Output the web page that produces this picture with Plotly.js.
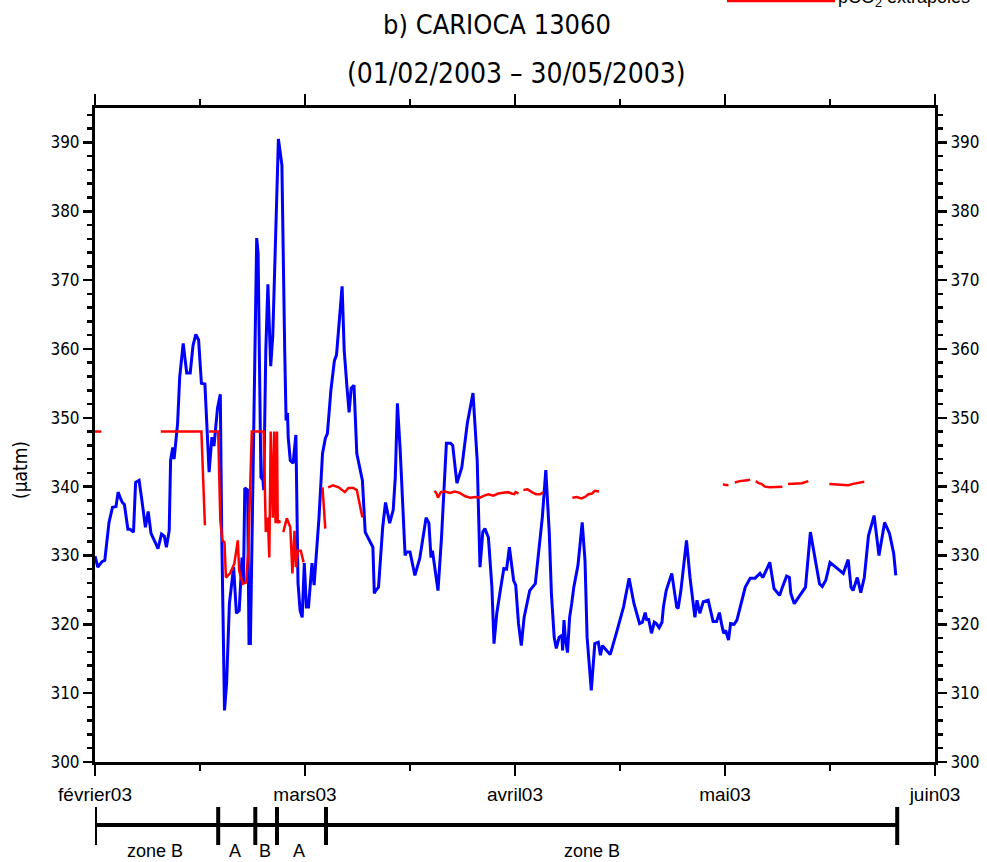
<!DOCTYPE html>
<html>
<head>
<meta charset="utf-8">
<script src="https://cdn.plot.ly/plotly-3.0.1.min.js"></script>
<style>html,body{margin:0;padding:0;background:#fff;}#chart{width:987px;height:862px;}</style>
</head>
<body>
<div id="chart"></div>
<script>
// ---- data (x = days since 01/02/2003) ----
const monthTickDays = [0, 30, 60, 90, 120];
const monthLabels = ['février03', 'mars03', 'avril03', 'mai03', 'juin03'];

const blueDay = [
  0,0.4,1.0,1.4,2.0,2.5,3.0,3.3,3.6,3.9,
  4.2,4.7,5.0,5.5,5.8,6.3,6.7,7.2,7.6,8.0,
  8.6,9.0,9.5,9.9,10.2,10.6,10.8,11.1,11.3,11.8,
  12.1,12.6,13.1,13.6,14.0,14.4,14.8,15.2,15.7,16.3,
  16.7,17.0,17.5,17.9,18.1,18.5,18.8,19.2,19.8,20.2,
  20.6,21.0,21.2,21.4,21.8,22.0,22.2,22.6,23.1,23.3,
  23.5,23.7,24.0,24.1,24.4,24.7,25.1,25.4,26.2,26.7,
  27.1,27.3,27.5,27.6,27.9,28.3,28.7,28.8,29.0,29.3,
  29.6,29.9,30.2,30.5,31.0,31.3,31.7,32.0,32.5,32.9,
  33.2,33.7,34.2,34.5,35.3,35.6,36.0,36.3,36.6,37.0,
  37.4,38.2,38.6,39.3,39.7,39.9,40.1,40.5,41.1,41.5,
  42.1,42.6,42.9,43.2,43.6,44.3,44.5,45.0,45.7,46.4,
  46.9,47.3,47.7,48.0,48.2,48.6,49.0,49.5,49.9,50.2,
  50.8,51.1,51.7,52.4,53.2,54.0,54.6,55.0,55.4,55.7,
  56.2,56.7,57.0,57.4,57.9,58.4,58.8,59.2,59.8,60.1,
  60.5,60.9,61.3,62.1,62.9,63.5,63.9,64.4,64.9,65.2,
  65.6,65.9,66.3,66.7,66.8,67.0,67.2,67.5,67.8,68.1,
  68.4,69.0,69.6,70.0,70.3,70.9,71.4,71.9,72.2,72.5,
  73.6,74.5,75.5,76.3,77.0,77.8,78.2,78.6,78.8,79.1,
  79.5,79.9,80.2,80.6,81.0,81.2,81.6,82.4,83.1,83.3,
  83.7,84.5,85.0,85.7,86.0,86.4,86.9,87.6,88.0,88.3,
  88.8,89.2,89.5,89.8,90.1,90.5,90.8,91.3,91.7,92.3,
  92.9,93.6,94.3,95.0,95.4,96.0,96.4,97.0,97.8,98.2,
  98.8,99.2,99.4,99.9,100.7,101.5,102.2,102.9,103.5,103.9,
  104.4,105.0,106.9,107.6,108.0,108.3,108.9,109.4,109.9,110.5,
  111.3,112.0,112.8,113.5,114.1,114.4
];
const bluePco2 = [
  329.9,328.3,329.1,329.3,334.8,337.0,337.1,339.2,338.4,337.7,
  337.4,333.8,333.8,333.4,340.6,340.9,338.0,334.1,336.4,333.2,
  331.9,331.0,333.1,332.8,331.2,333.6,343.8,345.7,344.0,349.2,
  355.9,360.8,356.5,356.5,360.5,362.1,361.3,355.0,354.9,342.1,
  347.2,345.9,351.4,353.4,333.4,307.5,311.4,323.0,328.3,321.6,
  322.0,329.7,325.9,339.8,339.5,317.2,317.2,345.3,376.1,373.9,
  359.8,341.4,340.9,339.5,359.8,369.4,357.5,362.0,390.5,386.7,
  359.8,349.6,350.7,347.2,343.8,343.4,347.5,340.5,326.0,322.0,
  321.0,328.9,322.5,322.5,328.9,325.7,330.7,335.5,344.8,347.0,
  347.7,354.0,358.3,359.1,369.1,359.8,354.4,350.8,354.3,354.7,
  344.8,340.9,333.4,331.9,331.2,324.5,324.9,325.4,334.1,337.7,
  334.7,336.6,341.4,352.1,345.3,330.0,330.5,330.5,327.1,329.6,
  332.6,335.5,334.7,329.7,330.7,327.8,324.9,332.6,339.4,346.3,
  346.3,346.0,340.5,342.8,349.3,353.6,343.8,328.3,333.4,333.9,
  332.6,325.4,317.2,321.6,324.9,328.1,328.0,331.2,326.4,325.7,
  320.1,316.9,321.0,324.9,325.9,331.2,335.5,342.4,333.2,324.5,
  318.1,316.5,318.1,318.4,316.2,320.6,317.9,315.9,321.0,323.0,
  325.4,328.6,334.8,329.3,318.1,310.4,317.2,317.4,315.5,316.9,
  315.6,318.8,322.5,326.7,323.0,320.1,320.3,321.7,320.7,320.7,
  318.7,320.3,320.1,319.5,320.3,322.5,324.9,327.4,322.5,322.3,
  324.9,332.2,326.8,321.0,323.5,321.6,323.3,323.5,321.6,320.4,
  320.4,321.7,320.1,318.7,319.1,317.7,320.1,320.0,320.6,323.2,
  325.4,326.7,326.7,327.4,326.8,328.1,329.0,325.2,324.2,325.4,
  327.0,326.8,324.5,323.0,324.2,325.4,333.4,329.3,325.9,325.5,
  326.4,329.0,327.4,329.4,325.4,324.9,326.8,324.6,326.8,332.9,
  335.8,330.0,334.8,333.2,330.3,327.1
];

// extrapolated pCO2 (null = gap)
const redDay = [
  0,0.9,null,
  9.4,15.2,15.7,null,
  16.3,17.6,17.9,18.2,18.5,18.7,19.3,19.9,20.4,20.6,21.1,21.6,21.9,22.4,24.1,24.4,24.7,24.9,25.1,25.4,25.6,25.8,26.0,26.1,26.3,26.4,null,
  26.9,27.4,27.9,28.2,28.5,28.7,29.0,29.4,29.8,null,
  32.5,32.9,null,
  33.3,34.0,34.8,35.7,36.2,36.9,37.4,37.8,38.2,null,
  48.5,48.8,49.0,49.4,50.0,50.7,51.4,52.1,52.9,53.6,54.3,55.0,55.6,56.2,56.9,57.6,58.3,59.0,59.5,59.9,60.1,60.5,null,
  61.2,61.8,62.4,63.0,63.6,64.0,null,
  68.2,68.8,69.5,70.0,70.5,71.0,71.4,72.0,null,
  89.7,90.5,null,
  91.4,92.1,92.9,93.6,null,
  94.4,94.8,95.2,95.7,96.4,97.4,98.2,null,
  99.0,100.0,101.0,101.9,null,
  104.9,106.0,106.9,107.6,108.3,109.0,109.9
];
const redPco2 = [
  348,348,null,
  348,348,334.4,null,
  348,348,335.1,332.2,331.9,326.8,327.4,328.8,332.2,327.8,325.9,326.1,330.7,348,348,333.4,335.5,329.7,348,335.5,348,334.7,348,334.7,335.1,334.7,null,
  333.4,335.4,334.1,327.4,333.6,328.3,330.7,330.7,329.0,null,
  339.9,333.9,null,
  339.9,340.2,339.9,339.2,339.8,339.8,339.5,337.7,335.5,null,
  339.4,339.0,338.4,339.2,339.3,339.1,339.3,339.1,338.6,338.4,338.5,338.4,338.7,338.9,338.7,339.0,339.1,339.2,339.0,338.9,339.2,339.0,null,
  339.5,339.6,339.2,338.9,338.9,339.2,null,
  338.4,338.5,338.3,338.5,338.9,339.0,339.4,339.3,null,
  340.3,340.2,null,
  340.6,340.8,340.9,341.0,null,
  340.8,340.5,340.4,340.0,339.9,339.9,340.0,null,
  340.4,340.5,340.5,340.8,null,
  340.4,340.3,340.2,340.2,340.4,340.5,340.7
];

// water-mass zones along the track
const zoneEdges = [0, 17.6, 22.9, 26.0, 33.0, 114.6];
const zoneLabels = ['zone B', 'A', 'B', 'A', 'zone B'];
const zoneLabelDays = [8.6, 20.0, 24.3, 29.1, 71.0];

// ---- drawing ----
const NARROW = 'Liberation Sans Narrow, DejaVu Sans Condensed, Arial Narrow, sans-serif';
const SANS = 'Liberation Sans, Arial, sans-serif';
const PLOT_TOP = 108, PLOT_BOT = 762, H = 862;
const plotH = PLOT_BOT - PLOT_TOP;
const py = p => (PLOT_BOT - p) / plotH; // pixel row -> paper y

const traces = [
  {x: blueDay, y: bluePco2, type: 'scatter', mode: 'lines', name: 'pCO2',
   line: {color: '#0000ff', width: 3}, showlegend: false, hoverinfo: 'x+y'},
  {x: redDay, y: redPco2, type: 'scatter', mode: 'lines', name: 'pCO2 extrapolés',
   connectgaps: false, line: {color: '#ff0000', width: 2.5}, showlegend: false},
  {x: blueDay, y: bluePco2, yaxis: 'y2', type: 'scatter', mode: 'none',
   showlegend: false, hoverinfo: 'skip'}
];

const yCommon = {
  range: [300, 395], tickmode: 'linear', tick0: 300, dtick: 10,
  ticks: 'outside', ticklen: 9, tickwidth: 2.5, tickcolor: '#000',
  minor: {tickmode: 'linear', tick0: 300, dtick: 2, ticks: 'outside', ticklen: 5, tickwidth: 2.5, tickcolor: '#000'},
  showline: true, linewidth: 3, linecolor: '#000',
  showgrid: false, zeroline: false, fixedrange: true,
  tickfont: {family: NARROW, size: 17, color: '#000'}
};

const shapes = [];
// zone bar
shapes.push({type: 'line', xref: 'x', yref: 'paper',
  x0: zoneEdges[0], x1: zoneEdges[zoneEdges.length - 1], y0: py(825), y1: py(825),
  line: {color: '#000', width: 4}});
zoneEdges.forEach(d => shapes.push({type: 'line', xref: 'x', yref: 'paper',
  x0: d, x1: d, y0: py(807), y1: py(845), line: {color: '#000', width: 4}}));
// legend line (partly outside the page, as in the original)
shapes.push({type: 'line', xref: 'paper', yref: 'paper',
  x0: (727 - 95) / 840, x1: (835 - 95) / 840, y0: py(1), y1: py(1),
  line: {color: '#ff0000', width: 2.5}});

const annotations = [];
zoneLabels.forEach((t, i) => annotations.push({
  text: t, xref: 'x', yref: 'paper', x: zoneLabelDays[i], y: py(851),
  xanchor: 'center', yanchor: 'middle', showarrow: false,
  font: {family: SANS, size: 18, color: '#000'}}));
annotations.push({text: '(01/02/2003 – 30/05/2003)', xref: 'paper', yref: 'paper',
  x: (516 - 95) / 840, y: py(73), xanchor: 'center', yanchor: 'middle', showarrow: false,
  font: {family: NARROW, size: 28, color: '#000'}});
annotations.push({text: '(μatm)', xref: 'paper', yref: 'paper',
  x: (20 - 95) / 840, y: py(470), xanchor: 'center', yanchor: 'middle', showarrow: false,
  textangle: -90, font: {family: NARROW, size: 19, color: '#000'}});
annotations.push({text: 'pCO<sub>2</sub> extrapolés', xref: 'paper', yref: 'paper',
  x: (836 - 95) / 840, y: py(-1), xanchor: 'left', yanchor: 'middle', showarrow: false,
  font: {family: SANS, size: 18, color: '#000'}});

const layout = {
  width: 987, height: 862,
  margin: {l: 95, r: 52, t: PLOT_TOP, b: H - PLOT_BOT, pad: 0},
  paper_bgcolor: '#fff', plot_bgcolor: '#fff',
  title: {text: 'b) CARIOCA 13060', x: 497 / 987, xanchor: 'center',
    y: 1 - 25 / 862, yref: 'container', yanchor: 'middle',
    font: {family: NARROW, size: 27, color: '#000'}},
  xaxis: {
    range: [0, 120], tickmode: 'array', tickvals: monthTickDays, ticktext: monthLabels,
    ticks: 'outside', ticklen: 11, tickwidth: 2.5, tickcolor: '#000',
    minor: {tickmode: 'linear', tick0: 0, dtick: 15, ticks: 'outside', ticklen: 6, tickwidth: 2.5, tickcolor: '#000'},
    showline: true, linewidth: 3, linecolor: '#000', mirror: 'ticks',
    showgrid: false, zeroline: false, fixedrange: true,
    tickfont: {family: SANS, size: 19, color: '#000'}, ticklabelstandoff: 2
  },
  yaxis: Object.assign({}, yCommon, {side: 'left'}),
  yaxis2: Object.assign({}, yCommon, {side: 'right', overlaying: 'y', anchor: 'x'}),
  shapes: shapes,
  annotations: annotations,
  showlegend: false
};

Plotly.newPlot('chart', traces, layout, {displayModeBar: false, staticPlot: true});
</script>
</body>
</html>
